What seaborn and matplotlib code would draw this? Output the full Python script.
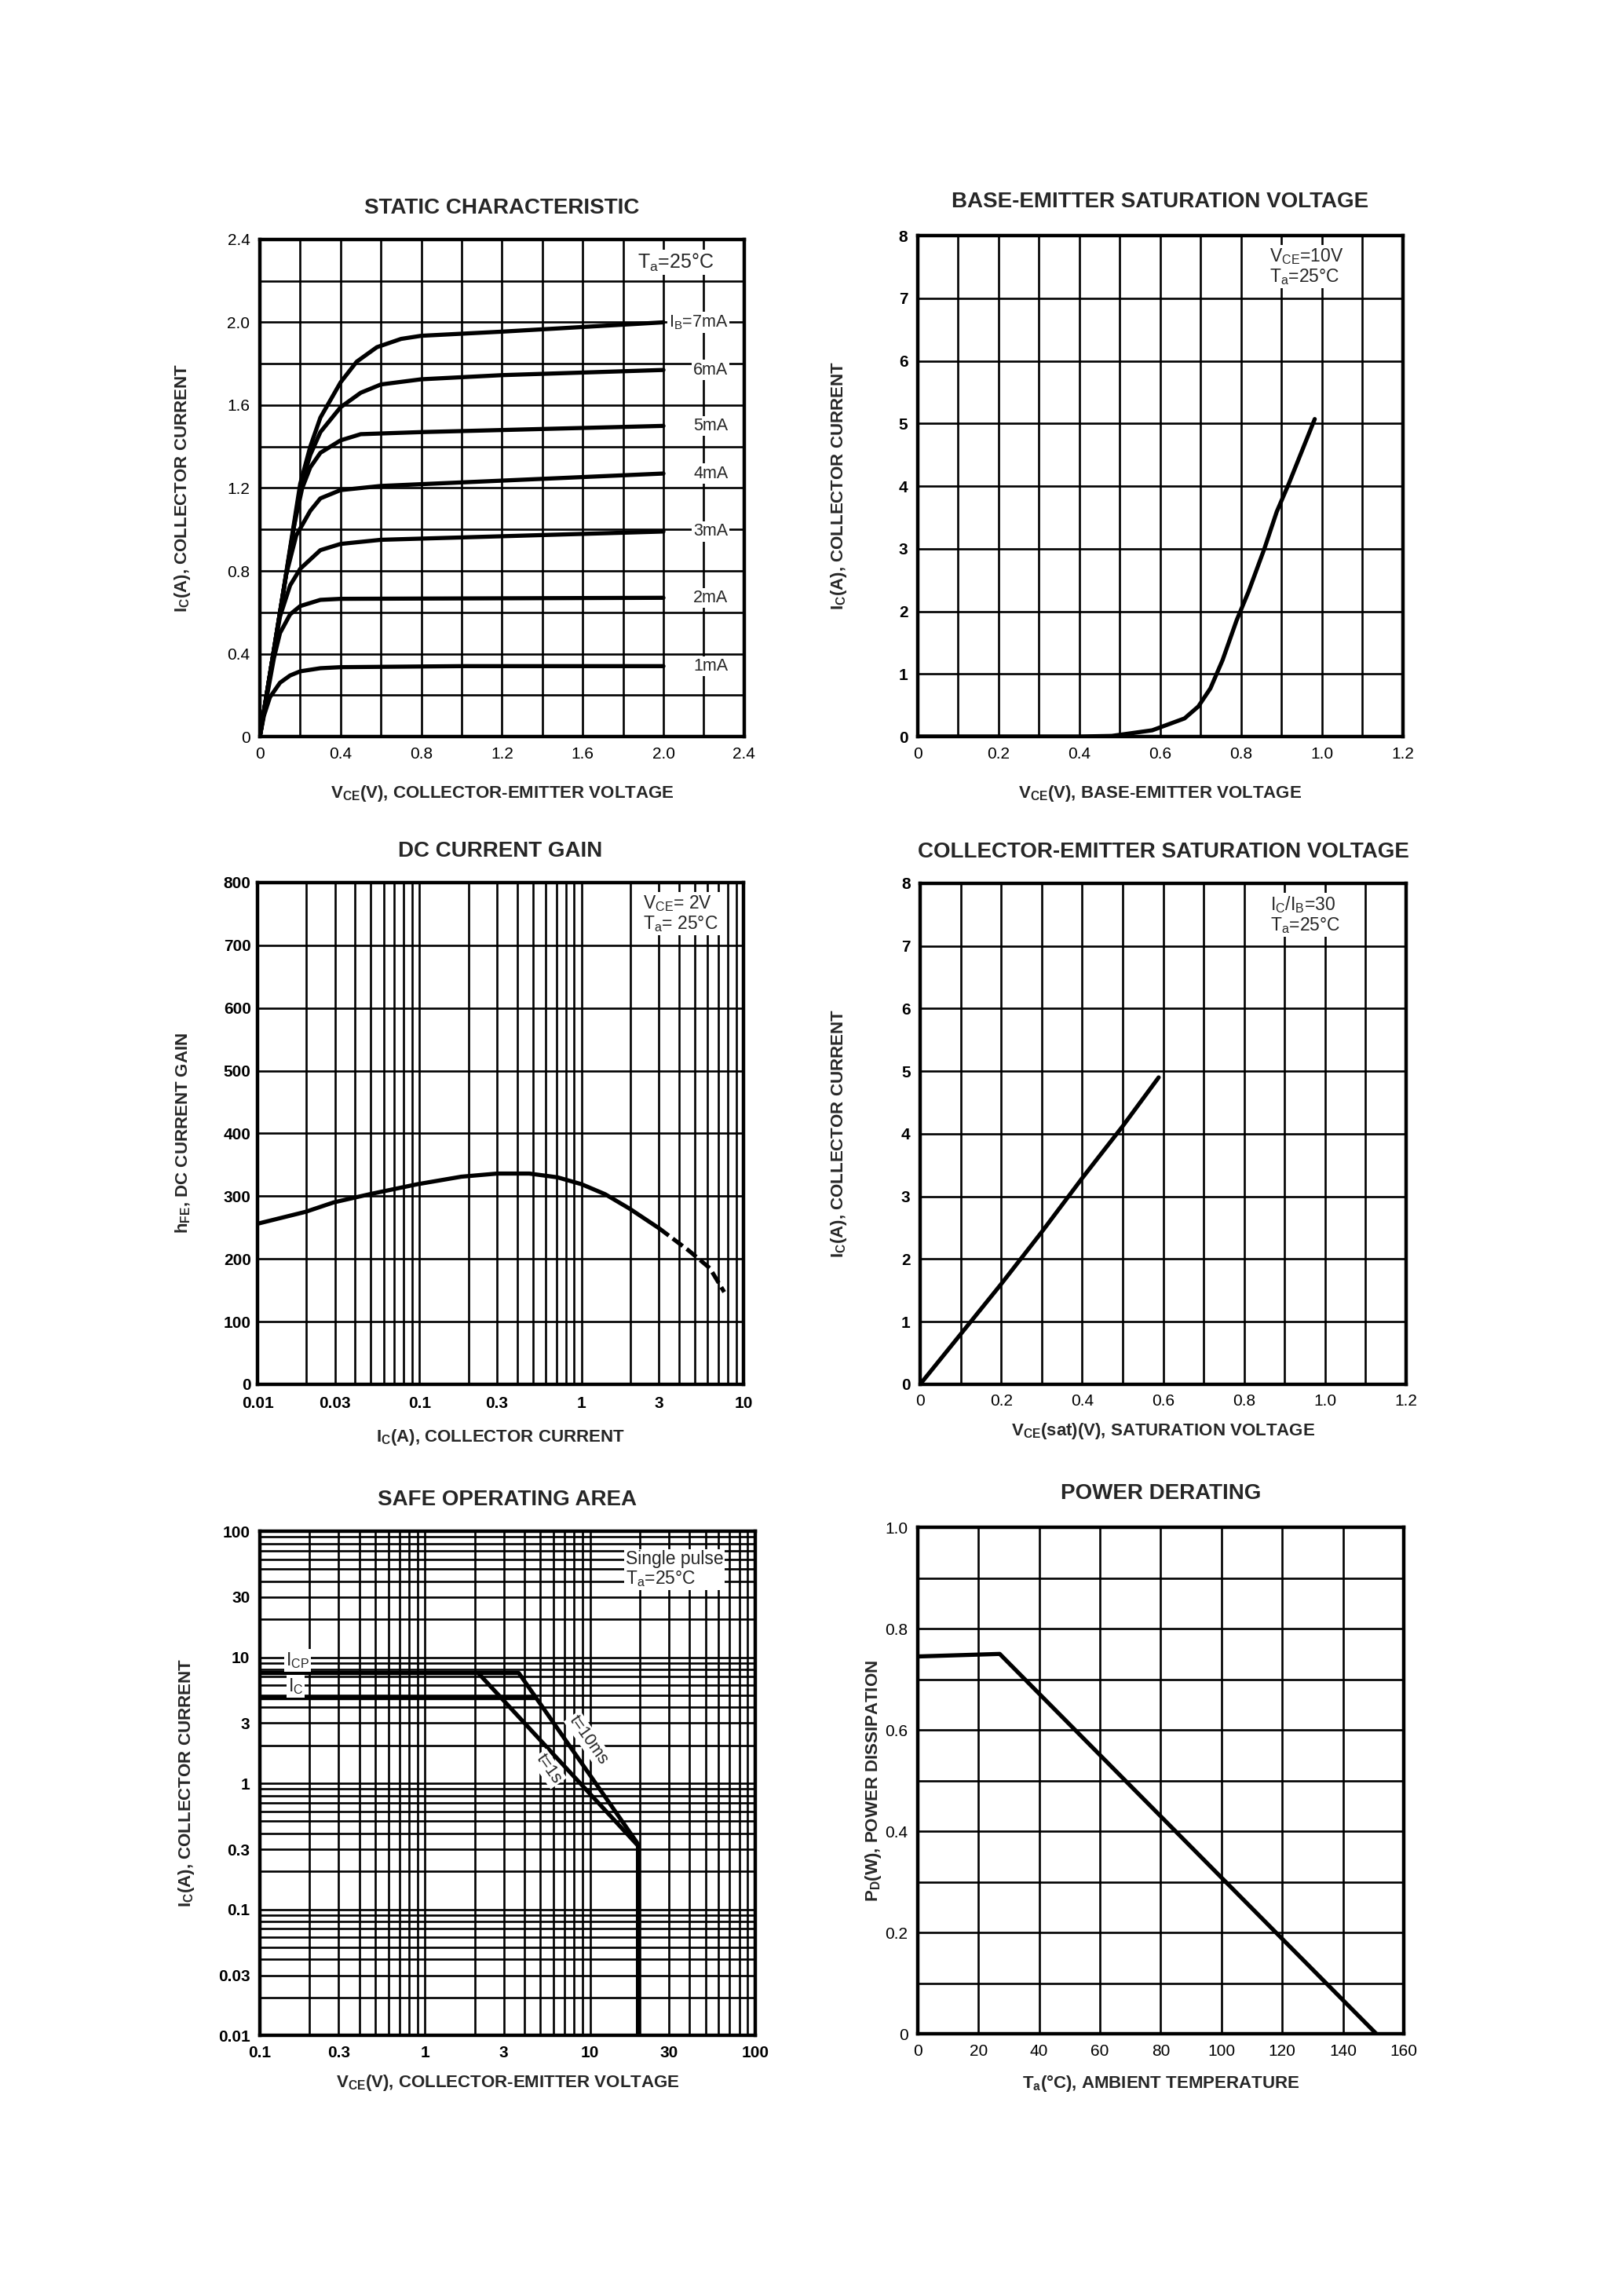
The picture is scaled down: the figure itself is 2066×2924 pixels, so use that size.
import matplotlib
matplotlib.use('Agg')
import matplotlib.pyplot as plt
import matplotlib.ticker as mticker
import pandas as pd
import seaborn as sns

# ---- data ----
# static characteristic (IB = 1..7 mA)
vce_1ma = [0, 0.02, 0.05, 0.1, 0.15, 0.2, 0.3, 0.4, 1.0, 2.0]
ic_1ma = [0, 0.1, 0.19, 0.26, 0.295, 0.315, 0.33, 0.335, 0.34, 0.34]
vce_2ma = [0, 0.04, 0.07, 0.1, 0.15, 0.2, 0.3, 0.4, 2.0]
ic_2ma = [0, 0.22, 0.38, 0.5, 0.59, 0.63, 0.66, 0.665, 0.67]
vce_3ma = [0, 0.06, 0.1, 0.15, 0.2, 0.3, 0.4, 0.6, 2.0]
ic_3ma = [0, 0.36, 0.58, 0.73, 0.81, 0.9, 0.93, 0.95, 0.99]
vce_4ma = [0, 0.08, 0.13, 0.18, 0.25, 0.3, 0.4, 0.6, 2.0]
ic_4ma = [0, 0.48, 0.78, 0.97, 1.09, 1.15, 1.19, 1.21, 1.27]
vce_5ma = [0, 0.1, 0.17, 0.21, 0.25, 0.3, 0.4, 0.5, 0.8, 2.0]
ic_5ma = [0, 0.6, 1.02, 1.2, 1.3, 1.37, 1.43, 1.46, 1.47, 1.5]
vce_6ma = [0, 0.1, 0.2, 0.25, 0.3, 0.4, 0.5, 0.6, 0.8, 1.2, 2.0]
ic_6ma = [0, 0.6, 1.2, 1.36, 1.47, 1.59, 1.66, 1.7, 1.725, 1.745, 1.77]
vce_7ma = [0, 0.1, 0.2, 0.25, 0.3, 0.4, 0.48, 0.58, 0.7, 0.8, 1.2, 2.0]
ic_7ma = [0, 0.6, 1.22, 1.4, 1.54, 1.71, 1.81, 1.88, 1.92, 1.935, 1.955, 2.0]
ib_names = ['1mA', '2mA', '3mA', '4mA', '5mA', '6mA', 'I$_B$=7mA']
ib_label_y = [0.34, 0.67, 0.99, 1.27, 1.5, 1.77, 2.0]

# base-emitter saturation voltage
vbe = [0, 0.4, 0.48, 0.58, 0.66, 0.694, 0.724, 0.754, 0.789, 0.818, 0.858, 0.888, 0.918, 0.982]
vbe_ic = [0, 0, 0.01, 0.1, 0.29, 0.48, 0.77, 1.22, 1.86, 2.31, 3.01, 3.59, 4.04, 5.07]

# DC current gain
hfe_ic = [0.01, 0.0198, 0.0295, 0.049, 0.097, 0.181, 0.302, 0.476, 0.71, 1.0, 1.4, 1.98, 3.0]
hfe = [256, 275, 290, 303, 319, 331, 336, 336, 330, 319, 303, 280, 249]
hfe_ic_dash = [3.0, 4.6, 6.2, 7.6]
hfe_dash = [249, 213, 185, 147]

# collector-emitter saturation voltage
vcesat = [0, 0.1, 0.2, 0.3, 0.4, 0.5, 0.589]
vcesat_ic = [0, 0.8, 1.6, 2.43, 3.29, 4.12, 4.9]

# safe operating area
soa_10ms_v = [0.1, 3.7, 19.5, 19.5]
soa_10ms_i = [7.5, 7.5, 0.33, 0.01]
soa_1s_v = [2.1, 19.5]
soa_1s_i = [7.5, 0.32]
soa_ic_v = [0.1, 4.6]
soa_ic_i = [4.8, 4.8]

# power derating
ta = [0, 27, 151]
pd_w = [0.745, 0.75, 0]

# tick labels
static_ticks = [0, 0.4, 0.8, 1.2, 1.6, 2.0, 2.4]
static_ticklabels = ['0', '0.4', '0.8', '1.2', '1.6', '2.0', '2.4']
v12_ticks = [0, 0.2, 0.4, 0.6, 0.8, 1.0, 1.2]
v12_ticklabels = ['0', '0.2', '0.4', '0.6', '0.8', '1.0', '1.2']
i8_ticks = [0, 1, 2, 3, 4, 5, 6, 7, 8]
hfe_xticks = [0.01, 0.03, 0.1, 0.3, 1, 3, 10]
hfe_xticklabels = ['0.01', '0.03', '0.1', '0.3', '1', '3', '10']
hfe_yticks = [0, 100, 200, 300, 400, 500, 600, 700, 800]
soa_xticks = [0.1, 0.3, 1, 3, 10, 30, 100]
soa_xticklabels = ['0.1', '0.3', '1', '3', '10', '30', '100']
soa_yticks = [0.01, 0.03, 0.1, 0.3, 1, 3, 10, 30, 100]
soa_yticklabels = ['0.01', '0.03', '0.1', '0.3', '1', '3', '10', '30', '100']
pd_xticks = [0, 20, 40, 60, 80, 100, 120, 140, 160]
pd_yticks = [0, 0.2, 0.4, 0.6, 0.8, 1.0]
pd_yticklabels = ['0', '0.2', '0.4', '0.6', '0.8', '1.0']

sns.set_theme(style='white')
plt.rcParams['font.family'] = ['Liberation Sans', 'DejaVu Sans']
plt.rcParams['mathtext.fontset'] = 'custom'
plt.rcParams['mathtext.rm'] = 'Liberation Sans'
plt.rcParams['mathtext.it'] = 'Liberation Sans:italic'
plt.rcParams['mathtext.bf'] = 'Liberation Sans:bold'
plt.rcParams['mathtext.default'] = 'regular'

W, H = 2066, 2924
fig = plt.figure(figsize=(W / 100, H / 100), dpi=100, facecolor='white')

CURVE_LW = 3.8
GRID_LW = 1.9
LABEL_FS = 16
NOTE_FS = 16.5
BOX = dict(facecolor='white', edgecolor='none', pad=1.5)


def make_axes(rect, title, xlabel, ylabel, xlab_px, ylab_px, title_pad,
              xpad=9, ypad=9):
    ax = fig.add_axes(rect)
    ax.set_facecolor('white')
    ax.set_axisbelow(True)
    for s in ax.spines.values():
        s.set_visible(True)
        s.set_color('black')
        s.set_linewidth(3.2)
    ax.set_title(title, fontsize=20, fontweight='bold', pad=title_pad)
    ax.set_xlabel(xlabel, fontsize=LABEL_FS, fontweight='bold')
    ax.set_ylabel(ylabel, fontsize=LABEL_FS, fontweight='bold')
    w = rect[2] * W
    h = rect[3] * H
    ax.xaxis.set_label_coords(0.5, -xlab_px / h)
    ax.yaxis.set_label_coords(-ylab_px / w, 0.5)
    ax.tick_params(which='both', length=0, labelsize=15, colors='black')
    ax.tick_params(axis='x', pad=xpad)
    ax.tick_params(axis='y', pad=ypad)
    return ax


def finish(ax, xbold, ybold):
    ax.grid(which='both', color='black', linewidth=GRID_LW)
    for lab in ax.get_xticklabels():
        lab.set_fontweight('bold' if xbold else 'normal')
    for lab in ax.get_yticklabels():
        lab.set_fontweight('bold' if ybold else 'normal')


# ---------------- STATIC CHARACTERISTIC ----------------
ax = make_axes([0.1602, 0.6792, 0.2986, 0.2165], 'STATIC CHARACTERISTIC',
               'V$_{\\mathbf{CE}}$(V), COLLECTOR-EMITTER VOLTAGE',
               'I$_\\mathbf{C}$(A), COLLECTOR CURRENT', 60, 86, 24)
curves = [(vce_1ma, ic_1ma), (vce_2ma, ic_2ma), (vce_3ma, ic_3ma), (vce_4ma, ic_4ma),
          (vce_5ma, ic_5ma), (vce_6ma, ic_6ma), (vce_7ma, ic_7ma)]
rows = []
for name, (xs, ys) in zip(ib_names, curves):
    for x, y in zip(xs, ys):
        rows.append({'IB': name, 'VCE': x, 'IC': y})
static_df = pd.DataFrame(rows)
sns.lineplot(data=static_df, x='VCE', y='IC', units='IB', estimator=None, sort=False,
             color='black', linewidth=CURVE_LW, ax=ax)
ax.set_xlim(0, 2.4)
ax.set_ylim(0, 2.4)
ax.set_xticks(static_ticks)
ax.set_xticklabels(static_ticklabels)
ax.set_yticks(static_ticks)
ax.set_yticklabels(static_ticklabels)
ax.set_xticks([0.2, 0.6, 1.0, 1.4, 1.8, 2.2], minor=True)
ax.set_yticks([0.2, 0.6, 1.0, 1.4, 1.8, 2.2], minor=True)
ax.set_xlabel('V$_{\\mathbf{CE}}$(V), COLLECTOR-EMITTER VOLTAGE', fontsize=LABEL_FS, fontweight='bold')
ax.set_ylabel('I$_\\mathbf{C}$(A), COLLECTOR CURRENT', fontsize=LABEL_FS, fontweight='bold')
for name, y in zip(ib_names, ib_label_y):
    ax.text(2.32, y, name, ha='right', va='center', fontsize=15.5, bbox=BOX, zorder=5)
ax.text(2.06, 2.29, 'T$_a$=25°C', ha='center', va='center', fontsize=18, bbox=BOX, zorder=5)
finish(ax, False, False)

# ---------------- BASE-EMITTER SATURATION VOLTAGE ----------------
ax = make_axes([0.5658, 0.6792, 0.2991, 0.2182], 'BASE-EMITTER SATURATION VOLTAGE',
               'V$_{\\mathbf{CE}}$(V), BASE-EMITTER VOLTAGE',
               'I$_\\mathbf{C}$(A), COLLECTOR CURRENT', 60, 88, 26)
sns.lineplot(x=vbe, y=vbe_ic, sort=False, estimator=None, color='black',
             linewidth=CURVE_LW, ax=ax)
ax.set_xlim(0, 1.2)
ax.set_ylim(0, 8)
ax.set_xticks(v12_ticks)
ax.set_xticklabels(v12_ticklabels)
ax.set_xticks([0.1, 0.3, 0.5, 0.7, 0.9, 1.1], minor=True)
ax.set_yticks(i8_ticks)
ax.text(0.87, 7.5, 'V$_{CE}$=10V\nT$_a$=25°C', ha='left', va='center', fontsize=NOTE_FS,
        linespacing=1.05, bbox=BOX, zorder=5)
finish(ax, False, True)

# ---------------- DC CURRENT GAIN ----------------
ax = make_axes([0.1588, 0.3971, 0.2996, 0.2185], 'DC CURRENT GAIN',
               'I$_\\mathbf{C}$(A), COLLECTOR CURRENT',
               'h$_\\mathbf{FE}$, DC CURRENT GAIN', 55, 83, 24, xpad=11, ypad=6)
ax.set_xscale('log')
sns.lineplot(x=hfe_ic, y=hfe, sort=False, estimator=None, color='black',
             linewidth=CURVE_LW, ax=ax)
sns.lineplot(x=hfe_ic_dash, y=hfe_dash, sort=False, estimator=None, color='black',
             linewidth=CURVE_LW, linestyle=(0, (3, 1.2)), ax=ax)
ax.set_xlim(0.01, 10)
ax.set_ylim(0, 800)
ax.set_xticks(hfe_xticks)
ax.set_xticklabels(hfe_xticklabels)
ax.xaxis.set_minor_locator(mticker.LogLocator(base=10, subs=range(2, 10), numticks=20))
ax.xaxis.set_minor_formatter(mticker.NullFormatter())
ax.set_yticks(hfe_yticks)
ax.text(2.4, 750, 'V$_{CE}$= 2V\nT$_a$= 25°C', ha='left', va='center', fontsize=NOTE_FS,
        linespacing=1.05, bbox=BOX, zorder=5)
finish(ax, True, True)

# ---------------- COLLECTOR-EMITTER SATURATION VOLTAGE ----------------
ax = make_axes([0.5673, 0.3971, 0.2996, 0.2182], 'COLLECTOR-EMITTER SATURATION VOLTAGE',
               'V$_{\\mathbf{CE}}$(sat)(V), SATURATION VOLTAGE',
               'I$_\\mathbf{C}$(A), COLLECTOR CURRENT', 47, 91, 24)
sns.lineplot(x=vcesat, y=vcesat_ic, sort=False, estimator=None, color='black',
             linewidth=CURVE_LW, ax=ax)
ax.set_xlim(0, 1.2)
ax.set_ylim(0, 8)
ax.set_xticks(v12_ticks)
ax.set_xticklabels(v12_ticklabels)
ax.set_xticks([0.1, 0.3, 0.5, 0.7, 0.9, 1.1], minor=True)
ax.set_yticks(i8_ticks)
ax.text(0.865, 7.5, 'I$_C$/I$_B$=30\nT$_a$=25°C', ha='left', va='center', fontsize=NOTE_FS,
        linespacing=1.05, bbox=BOX, zorder=5)
finish(ax, False, True)

# ---------------- SAFE OPERATING AREA ----------------
ax = make_axes([0.1602, 0.1135, 0.3054, 0.2196], 'SAFE OPERATING AREA',
               'V$_{\\mathbf{CE}}$(V), COLLECTOR-EMITTER VOLTAGE',
               'I$_\\mathbf{C}$(A), COLLECTOR CURRENT', 48, 81, 24)
ax.set_xscale('log')
ax.set_yscale('log')
sns.lineplot(x=soa_10ms_v, y=soa_10ms_i, sort=False, estimator=None, color='black',
             linewidth=CURVE_LW, ax=ax)
sns.lineplot(x=soa_1s_v, y=soa_1s_i, sort=False, estimator=None, color='black',
             linewidth=CURVE_LW, ax=ax)
sns.lineplot(x=soa_ic_v, y=soa_ic_i, sort=False, estimator=None, color='black',
             linewidth=CURVE_LW, ax=ax)
ax.set_xlim(0.1, 100)
ax.set_ylim(0.01, 100)
ax.set_xticks(soa_xticks)
ax.set_xticklabels(soa_xticklabels)
ax.set_yticks(soa_yticks)
ax.set_yticklabels(soa_yticklabels)
ax.xaxis.set_minor_locator(mticker.LogLocator(base=10, subs=range(2, 10), numticks=20))
ax.yaxis.set_minor_locator(mticker.LogLocator(base=10, subs=range(2, 10), numticks=20))
ax.xaxis.set_minor_formatter(mticker.NullFormatter())
ax.yaxis.set_minor_formatter(mticker.NullFormatter())
ax.text(0.17, 9.5, 'I$_{CP}$', ha='center', va='center', fontsize=NOTE_FS, bbox=BOX, zorder=5)
ax.text(0.165, 5.9, 'I$_C$', ha='center', va='center', fontsize=NOTE_FS, bbox=BOX, zorder=5)
ax.text(9.8, 2.2, 't=10ms', ha='center', va='center', fontsize=15.5, rotation=-55,
        bbox=BOX, zorder=5)
ax.text(5.6, 1.3, 't=1s', ha='center', va='center', fontsize=15.5, rotation=-55,
        bbox=BOX, zorder=5)
ax.text(16.4, 50, 'Single pulse\nT$_a$=25°C', ha='left', va='center', fontsize=NOTE_FS,
        linespacing=1.05, bbox=BOX, zorder=5)
finish(ax, True, True)

# ---------------- POWER DERATING ----------------
ax = make_axes([0.5658, 0.1142, 0.2996, 0.2206], 'POWER DERATING',
               'T$_a$(°C), AMBIENT TEMPERATURE',
               'P$_\\mathbf{D}$(W), POWER DISSIPATION', 50, 44, 26)
sns.lineplot(x=ta, y=pd_w, sort=False, estimator=None, color='black',
             linewidth=CURVE_LW, ax=ax)
ax.set_xlim(0, 160)
ax.set_ylim(0, 1.0)
ax.set_xticks(pd_xticks)
ax.set_yticks(pd_yticks)
ax.set_yticklabels(pd_yticklabels)
ax.set_yticks([0.1, 0.3, 0.5, 0.7, 0.9], minor=True)
finish(ax, False, False)

fig.savefig('out.png', dpi=100, facecolor='white')
